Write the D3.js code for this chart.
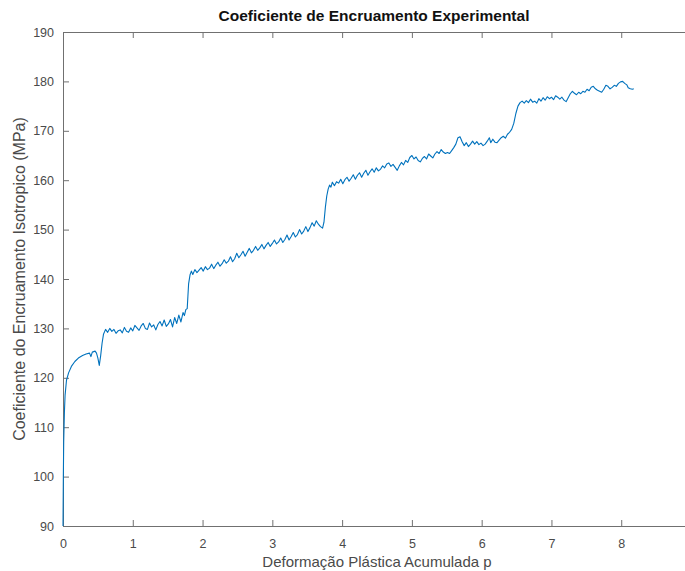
<!DOCTYPE html>
<html>
<head>
<meta charset="utf-8">
<script src="https://cdn.jsdelivr.net/npm/d3@7"></script>
<style>
  body { margin: 0; background: #fff; }
  svg { display: block; font-family: "Liberation Sans", Arial, sans-serif; }
</style>
</head>
<body>
<svg id="grafica"></svg>
<script>
const svg_w = 685; // ancho del svg
const svg_h = 571; // alto del svg

// márgenes (el eje x llega hasta 9, un poco fuera de la imagen)
const margin = {l:63, r:-6, t:32, b:45}
const viz_w = svg_w - margin.l - margin.r;
const viz_h = svg_h - margin.t - margin.b;

// datos: [deformación p, coeficiente (MPa)]
const tramo_inicial = [[0,90],[0.005,100],[0.01,107],[0.02,113],[0.03,116.5],[0.05,119.5],[0.08,121],[0.12,122.3],[0.17,123.3],
  [0.22,124],[0.28,124.5],[0.33,124.8],[0.38,125],[0.40,124.3],[0.42,125.2],[0.46,125.4],[0.48,125.0],[0.50,124.0],[0.52,122.5],
  [0.54,124.5],[0.56,127],[0.58,128.8],[0.61,129.8],[0.64,129.2],[0.67,130.0],[0.70,129.4]];
const tramo_130 = [[0.73,129.8],[0.76,129.0],[0.79,129.5],[0.82,129.7],[0.85,129.1],[0.88,130.2],[0.91,129.4],[0.94,129.2],
  [0.97,130.1],[1.00,129.5],[1.03,130.6],[1.06,130.1],[1.09,129.6],[1.12,130.5],[1.15,131.0],[1.18,130.0],[1.21,129.8],
  [1.24,131.1],[1.27,130.3],[1.30,130.7],[1.33,129.7],[1.36,130.8],[1.39,131.4],[1.42,130.5],[1.45,131.7],[1.48,130.4],
  [1.51,130.9],[1.54,131.8],[1.57,130.3],[1.60,132.2],[1.63,131.0],[1.66,132.7],[1.69,131.3],[1.72,133.2],[1.74,132.6],
  [1.76,133.8],[1.78,134.0],[1.79,136.5],[1.80,139.0],[1.82,140.8],[1.84,141.6],[1.86,140.9]];
const tramo_145 = [[1.89,141.9],[1.92,141.3],[1.95,141.8],[1.98,142.3],[2.01,141.6],[2.04,142.5],[2.07,141.9],[2.10,142.2],
  [2.13,143.0],[2.16,142.1],[2.19,142.8],[2.22,143.4],[2.25,142.6],[2.28,143.1],[2.31,143.9],[2.34,143.2],[2.37,143.6],
  [2.40,144.5],[2.43,143.5],[2.46,144.1],[2.49,145.2],[2.52,144.3],[2.55,144.9],[2.58,145.6],[2.61,144.6],[2.64,145.4],
  [2.67,146.2],[2.70,145.3],[2.73,145.8],[2.76,146.6],[2.79,145.8],[2.82,146.3],[2.85,147.0],[2.88,146.1],[2.91,146.8],
  [2.94,147.4],[2.97,146.6],[3.00,147.2],[3.03,147.9],[3.06,147.1],[3.09,147.5],[3.12,148.3],[3.15,147.4],[3.18,148.0],
  [3.21,148.9],[3.24,147.9],[3.27,148.6],[3.30,149.4],[3.33,148.5],[3.36,149.0],[3.39,150.0],[3.42,149.1],[3.45,149.7],
  [3.48,150.6],[3.51,149.6],[3.54,150.4],[3.57,151.4],[3.60,150.7],[3.63,151.8],[3.66,151.1],[3.69,150.6],[3.72,150.3],
  [3.74,151.5],[3.76,154.5],[3.78,156.8],[3.80,158.2],[3.82,159.0],[3.84,158.6],[3.86,159.6]];
const tramo_165 = [[3.89,158.9],[3.92,159.7],[3.95,159.4],[3.98,160.2],[4.01,159.3],[4.04,160.1],[4.07,160.6],[4.10,159.8],
  [4.13,160.4],[4.16,161.1],[4.19,160.2],[4.22,161.0],[4.25,161.5],[4.28,160.6],[4.31,161.4],[4.34,162.0],[4.37,161.0],
  [4.40,161.7],[4.43,162.3],[4.46,161.6],[4.49,162.5],[4.52,161.9],[4.55,162.2],[4.58,162.9],[4.61,162.5],[4.64,163.3],
  [4.67,163.5],[4.70,162.8],[4.73,163.2],[4.76,162.6],[4.79,162.0],[4.82,162.9],[4.85,163.6],[4.88,163.1],[4.91,164.0],
  [4.94,163.6],[4.97,164.6],[5.00,165.0],[5.03,164.3],[5.06,164.7],[5.09,164.0],[5.12,163.7],[5.15,164.4],[5.18,164.8],
  [5.21,164.3],[5.24,165.3],[5.27,164.9],[5.30,164.5],[5.33,165.3],[5.36,165.8],[5.39,165.4],[5.42,166.2],[5.45,165.7],
  [5.48,165.4],[5.51,165.6],[5.54,165.4],[5.57,166.0],[5.60,166.6],[5.63,167.3],[5.66,168.6],[5.69,168.8],[5.72,167.8],
  [5.75,167.0],[5.78,167.6],[5.81,166.8],[5.84,167.3],[5.87,167.9],[5.90,167.3],[5.93,167.8],[5.96,167.2],[5.99,167.5],
  [6.02,167.0],[6.05,167.3],[6.08,167.9],[6.11,168.6],[6.13,167.6],[6.16,168.3],[6.19,167.7],[6.22,167.6],[6.25,168.1],
  [6.28,168.6],[6.31,168.9],[6.34,168.5],[6.37,169.3],[6.40,169.7],[6.43,170.3],[6.46,171.5],[6.49,173.5],[6.52,175.0],
  [6.55,175.7],[6.58,176.0],[6.61,175.6]];
const tramo_final = [[6.64,176.1],[6.67,175.7],[6.70,176.4],[6.73,175.8],[6.76,176.0],[6.79,175.6],[6.82,176.5],[6.85,176.0],
  [6.88,176.7],[6.91,176.2],[6.94,176.9],[6.97,176.5],[7.00,176.8],[7.03,176.3],[7.06,177.1],[7.09,176.8],[7.12,176.4],
  [7.15,176.8],[7.18,176.2],[7.21,175.9],[7.24,176.7],[7.27,177.5],[7.30,178.0],[7.33,177.6],[7.36,177.3],[7.39,177.8],
  [7.42,177.5],[7.45,178.0],[7.48,177.8],[7.51,178.4],[7.54,178.1],[7.57,178.8],[7.60,179.0],[7.63,178.5],[7.66,178.2],
  [7.69,178.0],[7.72,177.8],[7.75,178.4],[7.78,179.2],[7.81,179.0],[7.84,178.5],[7.87,178.8],[7.90,179.2],[7.93,179.0],
  [7.96,179.6],[7.99,179.9],[8.02,180.0],[8.05,179.6],[8.08,179.3],[8.10,178.7],[8.13,178.5],[8.16,178.4],[8.18,178.5]];

const x_ticks = [0,1,2,3,4,5,6,7,8,9];
const y_ticks = [90,100,110,120,130,140,150,160,170,180,190];

const data = [].concat(tramo_inicial, tramo_130, tramo_145, tramo_165, tramo_final)
  .map(d => ({p:d[0], c:d[1]}));

let svg = d3.select("#grafica")
  .attr("width", svg_w)
  .attr("height", svg_h)

let x_scale = d3.scaleLinear().domain([0,9]).range([0,viz_w])
let y_scale = d3.scaleLinear().domain([90,190]).range([viz_h,0])

const axis_color = "#707070";
const text_color = "#4a4a4a";
const tick_len = 6;

let g = svg.append("g")
  .attr("transform",`translate(${margin.l},${margin.t})`)

// ejes abajo / arriba (ticks hacia dentro, como MATLAB)
let ax_b = g.append("g")
  .attr("transform",`translate(0,${viz_h})`)
  .call(d3.axisBottom(x_scale).tickValues(x_ticks).tickSizeInner(-tick_len).tickSizeOuter(0).tickPadding(13))
let ax_t = g.append("g")
  .call(d3.axisTop(x_scale).tickValues(x_ticks).tickSizeInner(-tick_len).tickSizeOuter(0).tickFormat(""))
// ejes izquierda / derecha
let ax_l = g.append("g")
  .call(d3.axisLeft(y_scale).tickValues(y_ticks).tickSizeInner(-tick_len).tickSizeOuter(0).tickPadding(9))
let ax_r = g.append("g")
  .attr("transform",`translate(${viz_w},0)`)
  .call(d3.axisRight(y_scale).tickValues(y_ticks).tickSizeInner(-tick_len).tickSizeOuter(0).tickFormat(""))

;[ax_b, ax_t, ax_l, ax_r].forEach(ax => {
  ax.select(".domain").attr("stroke", axis_color).attr("stroke-width", 1)
  ax.selectAll(".tick line").attr("stroke", axis_color)
  ax.selectAll("text")
    .attr("fill", text_color)
    .style("font-size", "12.5px")
    .style("font-family", "Liberation Sans, Arial, sans-serif")
})

// la curva
g.append("path")
  .datum(data)
  .attr("fill", "none")
  .attr("stroke", "#0072BD")
  .attr("stroke-width", 1.1)
  .attr("stroke-linejoin", "round")
  .attr("d", d3.line().x(d=>x_scale(d.p)).y(d=>y_scale(d.c)))

// título y etiquetas
svg.append("text")
  .attr("x", 374)
  .attr("y", 21)
  .attr("text-anchor", "middle")
  .attr("font-weight", "bold")
  .attr("font-size", "15.5px")
  .attr("fill", "#111")
  .text("Coeficiente de Encruamento Experimental")

svg.append("text")
  .attr("x", 377)
  .attr("y", 567)
  .attr("text-anchor", "middle")
  .attr("font-size", "15px")
  .attr("fill", text_color)
  .text("Deformação Plástica Acumulada p")

svg.append("text")
  .attr("transform", `translate(25,${margin.t + viz_h/2}) rotate(-90)`)
  .attr("text-anchor", "middle")
  .attr("font-size", "16px")
  .attr("fill", text_color)
  .text("Coeficiente do Encruamento Isotropico (MPa)")
</script>
</body>
</html>
